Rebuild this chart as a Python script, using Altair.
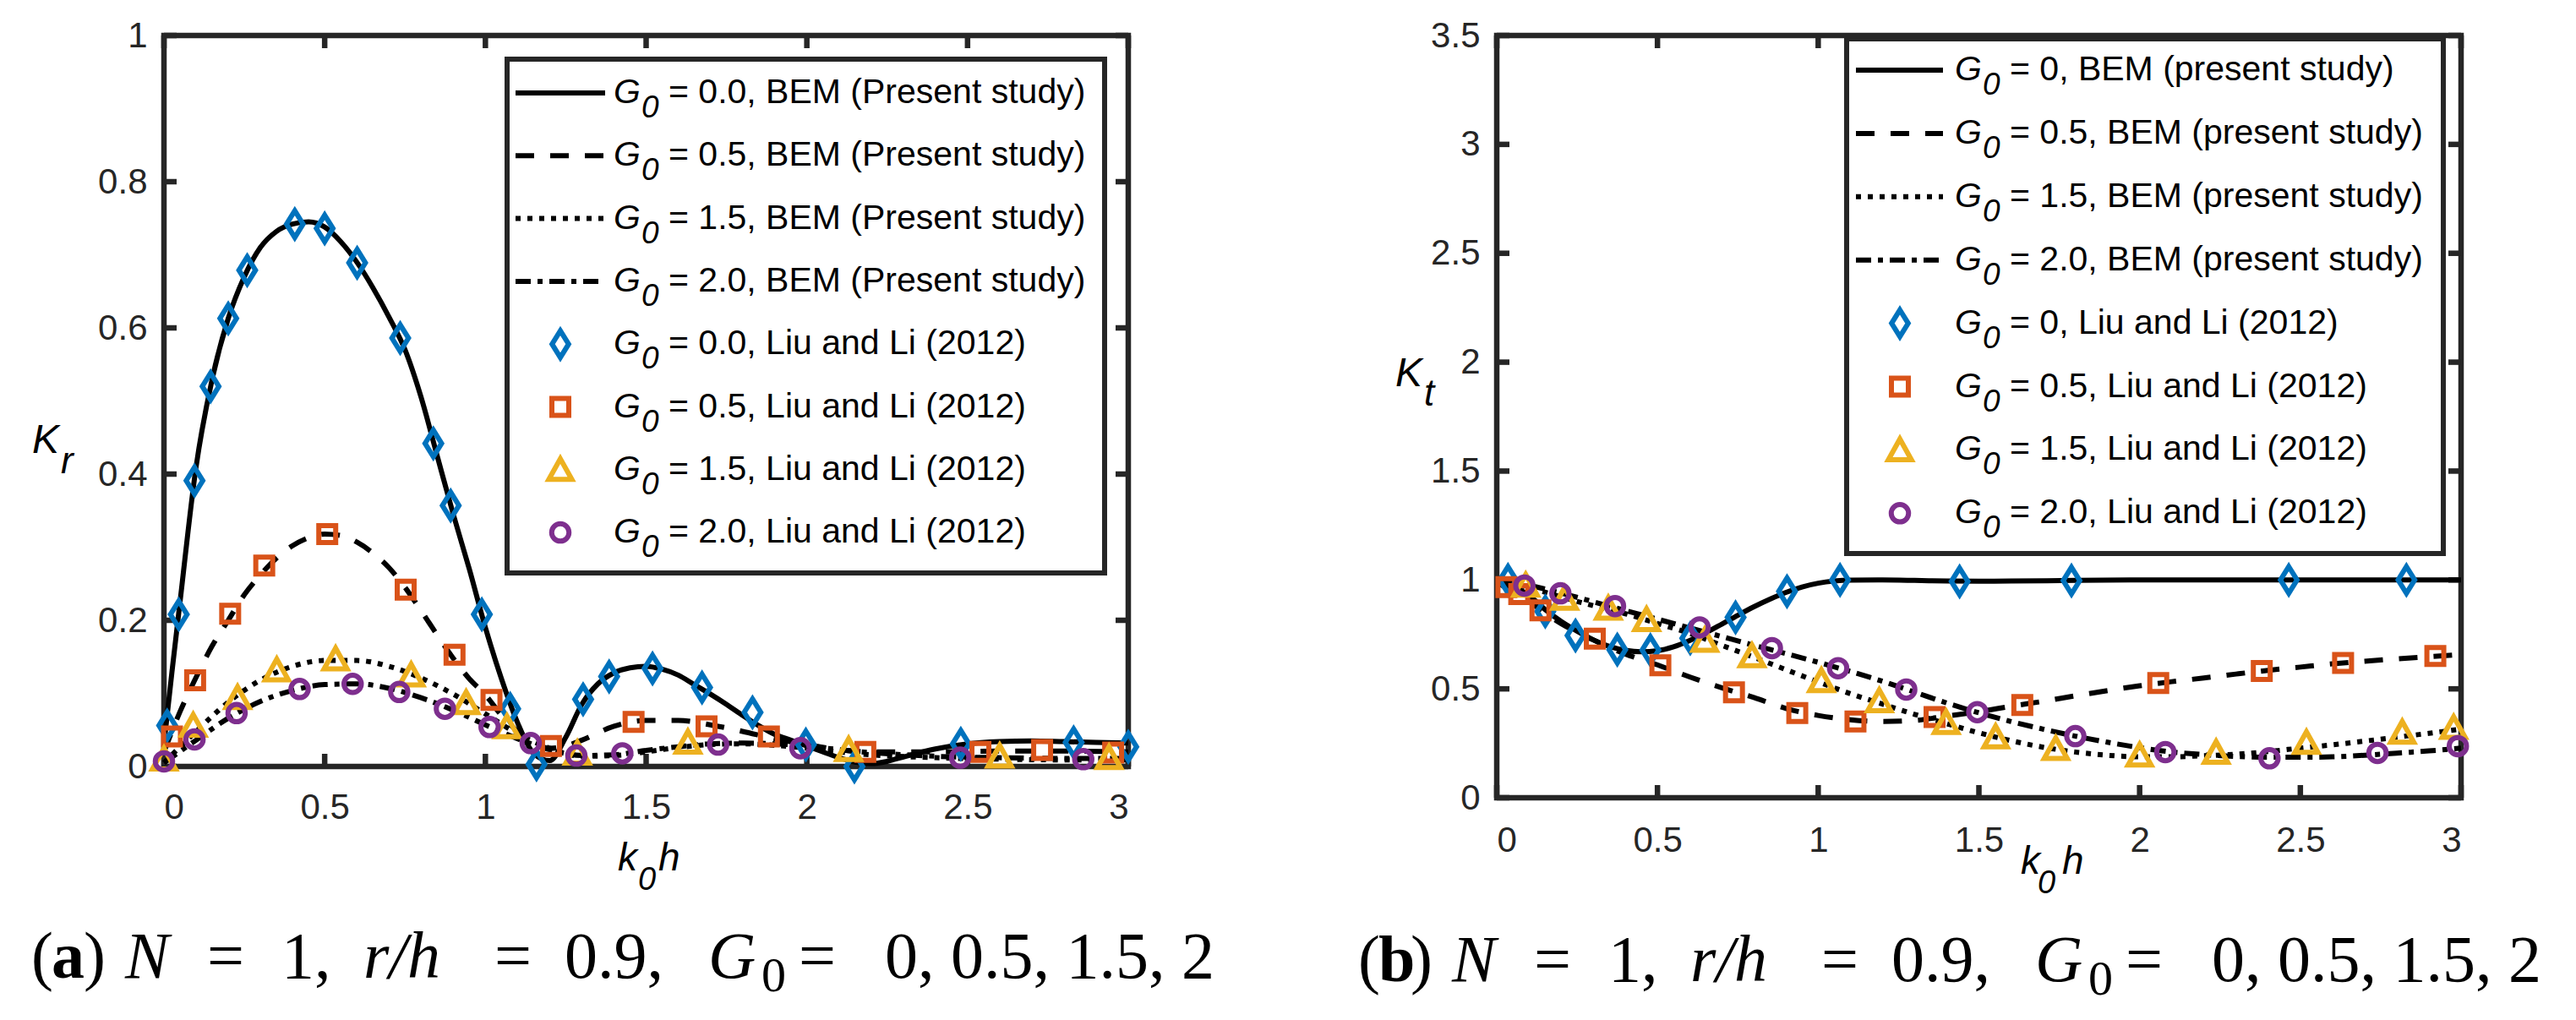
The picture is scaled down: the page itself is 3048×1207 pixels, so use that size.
import altair as alt
import pandas as pd

# ---------------- data ----------------
k_ticks = [0, 0.5, 1, 1.5, 2, 2.5, 3]
kr_ticks = [0, 0.2, 0.4, 0.6, 0.8, 1]
kt_ticks = [0, 0.5, 1, 1.5, 2, 2.5, 3, 3.5]

# (a) Kr, BEM (present study)
kr_x00 = [0, 0.025, 0.05, 0.1, 0.15, 0.2, 0.25, 0.3, 0.35, 0.4, 0.45, 0.5, 0.55, 0.6, 0.65,
          0.7, 0.75, 0.8, 0.85, 0.9, 0.95, 1.0, 1.05, 1.1, 1.15, 1.2, 1.25, 1.3, 1.35, 1.4,
          1.45, 1.5, 1.55, 1.6, 1.65, 1.7, 1.75, 1.8, 1.85, 1.9, 1.95, 2.0, 2.05, 2.1, 2.15,
          2.2, 2.25, 2.3, 2.4, 2.5, 2.6, 2.7, 2.8, 2.9, 3.0]
kr_y00 = [0.03, 0.13, 0.225, 0.41, 0.53, 0.613, 0.67, 0.71, 0.732, 0.742, 0.745, 0.738, 0.718,
          0.69, 0.655, 0.615, 0.57, 0.505, 0.425, 0.345, 0.27, 0.19, 0.12, 0.06, 0.018, 0.008,
          0.04, 0.085, 0.113, 0.128, 0.135, 0.137, 0.133, 0.125, 0.112, 0.099, 0.085, 0.07,
          0.056, 0.044, 0.036, 0.028, 0.02, 0.012, 0.006, 0.004, 0.007, 0.013, 0.024, 0.031,
          0.034, 0.035, 0.034, 0.033, 0.032]
kr_x05 = [0, 0.05, 0.1, 0.15, 0.2, 0.25, 0.3, 0.35, 0.4, 0.45, 0.5, 0.55, 0.6, 0.65, 0.7, 0.75,
          0.8, 0.85, 0.9, 0.95, 1.0, 1.05, 1.1, 1.15, 1.2, 1.25, 1.3, 1.4, 1.5, 1.6, 1.7, 1.8,
          1.9, 2.0, 2.1, 2.2, 2.4, 2.6, 2.8, 3.0]
kr_y05 = [0.02, 0.075, 0.122, 0.165, 0.2, 0.235, 0.262, 0.285, 0.302, 0.313, 0.318, 0.316, 0.307,
          0.292, 0.272, 0.245, 0.213, 0.18, 0.148, 0.12, 0.098, 0.07, 0.048, 0.032, 0.025, 0.028,
          0.036, 0.055, 0.063, 0.063, 0.057, 0.048, 0.038, 0.03, 0.023, 0.02, 0.02, 0.021, 0.021,
          0.02]
kr_x = [0, 0.1, 0.2, 0.3, 0.4, 0.5, 0.6, 0.7, 0.8, 0.9, 1.0, 1.1, 1.2, 1.3, 1.4, 1.5, 1.6, 1.7,
        1.8, 1.9, 2.0, 2.1, 2.2, 2.4, 2.6, 2.8, 3.0]
kr_y15 = [0.005, 0.048, 0.088, 0.118, 0.137, 0.145, 0.145, 0.137, 0.121, 0.099, 0.072, 0.045,
          0.025, 0.014, 0.015, 0.02, 0.026, 0.03, 0.031, 0.029, 0.025, 0.02, 0.016, 0.012, 0.01,
          0.009, 0.009]
kr_y20 = [0.005, 0.036, 0.066, 0.089, 0.104, 0.112, 0.113, 0.107, 0.094, 0.077, 0.057, 0.038,
          0.023, 0.015, 0.016, 0.022, 0.027, 0.031, 0.032, 0.031, 0.028, 0.023, 0.019, 0.014,
          0.012, 0.011, 0.011]

# (a) Kr, Liu and Li (2012)
kr_liu_x00 = [0.01, 0.046, 0.095, 0.145, 0.2, 0.259, 0.407, 0.5, 0.601, 0.735, 0.838, 0.892,
              0.989, 1.077, 1.159, 1.304, 1.385, 1.52, 1.674, 1.831, 1.997, 2.148, 2.479, 2.83, 3.0]
kr_liu_y00 = [0.056, 0.208, 0.391, 0.52, 0.613, 0.679, 0.742, 0.736, 0.689, 0.586, 0.442, 0.357,
              0.208, 0.079, 0.003, 0.092, 0.123, 0.134, 0.108, 0.074, 0.03, 0.0, 0.031, 0.033, 0.027]
kr_liu_x05 = [0.025, 0.097, 0.206, 0.312, 0.508, 0.752, 0.904, 1.019, 1.204, 1.461, 1.688, 1.882,
              2.182, 2.54, 2.732, 2.953]
kr_liu_y05 = [0.041, 0.118, 0.209, 0.275, 0.318, 0.242, 0.153, 0.091, 0.028, 0.061, 0.055, 0.041,
              0.02, 0.02, 0.0225, 0.019]
kr_liu_x15 = [0.0, 0.091, 0.229, 0.351, 0.534, 0.769, 0.94, 1.067, 1.286, 1.63, 2.13, 2.6, 2.94]
kr_liu_y15 = [0.01, 0.056, 0.094, 0.132, 0.147, 0.125, 0.087, 0.054, 0.018, 0.033, 0.023, 0.014,
              0.012]
kr_liu_x20 = [0.0, 0.095, 0.226, 0.422, 0.587, 0.732, 0.874, 1.013, 1.141, 1.283, 1.426, 1.724,
              1.98, 2.477, 2.86]
kr_liu_y20 = [0.007, 0.037, 0.073, 0.106, 0.113, 0.102, 0.079, 0.054, 0.032, 0.015, 0.018, 0.03,
              0.025, 0.012, 0.01]

# (b) Kt, BEM (present study)
kt_x00 = [0, 0.05, 0.1, 0.15, 0.2, 0.25, 0.3, 0.35, 0.4, 0.45, 0.5, 0.55, 0.6, 0.65, 0.7, 0.75,
          0.8, 0.85, 0.9, 0.95, 1.0, 1.05, 1.1, 1.2, 1.3, 1.4, 1.5, 1.6, 1.8, 2.0, 2.5, 3.0]
kt_y00 = [1.0, 0.97, 0.93, 0.865, 0.81, 0.765, 0.725, 0.695, 0.677, 0.67, 0.675, 0.693, 0.722,
          0.757, 0.797, 0.838, 0.877, 0.912, 0.943, 0.968, 0.985, 0.995, 0.999, 1.0, 0.998, 0.995,
          0.994, 0.995, 0.998, 1.0, 1.0, 1.0]
kt_x = [0, 0.1, 0.2, 0.3, 0.4, 0.5, 0.6, 0.7, 0.8, 0.9, 1.0, 1.1, 1.2, 1.3, 1.4, 1.5, 1.6, 1.7,
        1.8, 1.9, 2.0, 2.1, 2.2, 2.3, 2.4, 2.5, 2.6, 2.7, 2.8, 2.9, 3.0]
kt_y05 = [0.99, 0.9, 0.8, 0.725, 0.66, 0.61, 0.555, 0.505, 0.46, 0.41, 0.378, 0.358, 0.35, 0.355,
          0.375, 0.395, 0.42, 0.443, 0.468, 0.492, 0.514, 0.533, 0.55, 0.568, 0.585, 0.6, 0.615,
          0.627, 0.638, 0.648, 0.657]
kt_y15 = [1.0, 0.965, 0.922, 0.882, 0.845, 0.8, 0.755, 0.7, 0.645, 0.588, 0.532, 0.478, 0.43,
          0.383, 0.34, 0.298, 0.262, 0.232, 0.21, 0.195, 0.188, 0.188, 0.193, 0.2, 0.212, 0.228,
          0.243, 0.26, 0.278, 0.296, 0.315]
kt_y20 = [1.0, 0.975, 0.94, 0.9, 0.86, 0.82, 0.78, 0.74, 0.7, 0.662, 0.622, 0.58, 0.535, 0.485,
          0.435, 0.39, 0.35, 0.315, 0.283, 0.255, 0.23, 0.21, 0.198, 0.19, 0.186, 0.186, 0.188,
          0.195, 0.205, 0.215, 0.228]

# (b) Kt, Liu and Li (2012)
kt_liu_x00 = [0.035, 0.151, 0.245, 0.375, 0.478, 0.602, 0.743, 0.903, 1.068, 1.44, 1.788, 2.464, 2.83]
kt_liu_y00 = [1.0, 0.856, 0.745, 0.68, 0.678, 0.732, 0.828, 0.948, 1.0, 0.993, 0.997, 1.0, 1.0]
kt_liu_x05 = [0.03, 0.07, 0.136, 0.305, 0.509, 0.738, 0.935, 1.116, 1.362, 1.635, 2.058, 2.38,
              2.633, 2.92]
kt_liu_y05 = [0.967, 0.935, 0.86, 0.73, 0.608, 0.484, 0.389, 0.35, 0.371, 0.426, 0.527, 0.582,
              0.619, 0.651]
kt_liu_x15 = [0.09, 0.211, 0.347, 0.466, 0.647, 0.794, 1.01, 1.19, 1.398, 1.552, 1.739, 2.0,
              2.238, 2.519, 2.817, 2.977]
kt_liu_y15 = [0.975, 0.915, 0.869, 0.817, 0.722, 0.651, 0.537, 0.445, 0.345, 0.279, 0.225, 0.195,
              0.208, 0.253, 0.3, 0.322]
kt_liu_x20 = [0.086, 0.198, 0.368, 0.631, 0.856, 1.062, 1.274, 1.495, 1.8, 2.08, 2.404, 2.74, 2.99]
kt_liu_y20 = [0.974, 0.939, 0.88, 0.782, 0.687, 0.595, 0.497, 0.393, 0.283, 0.21, 0.181, 0.206,
              0.237]

left_labels = [
    "= 0.0, BEM (Present study)", "= 0.5, BEM (Present study)",
    "= 1.5, BEM (Present study)", "= 2.0, BEM (Present study)",
    "= 0.0, Liu and Li (2012)", "= 0.5, Liu and Li (2012)",
    "= 1.5, Liu and Li (2012)", "= 2.0, Liu and Li (2012)",
]
right_labels = [
    "= 0, BEM (present study)", "= 0.5, BEM (present study)",
    "= 1.5, BEM (present study)", "= 2.0, BEM (present study)",
    "= 0, Liu and Li (2012)", "= 0.5, Liu and Li (2012)",
    "= 1.5, Liu and Li (2012)", "= 2.0, Liu and Li (2012)",
]

# ---------------- styles ----------------
INK = "#262626"
SANS = "Liberation Sans"
SERIF = "Liberation Serif"
DASHES = [None, [22, 19], [6, 8], [18, 8, 6, 8]]
MARKERS = [
    ("M0,-1L0.62,0L0,1L-0.62,0Z", 1000, "#0072BD"),
    ("square", 400, "#D95319"),
    ("M0,-0.95L1,0.85L-1,0.85Z", 740, "#EDB120"),
    ("circle", 420, "#7E2F8E"),
]
ONE = pd.DataFrame({"k": [0]})


def word(text, x, y, size, font=SANS, style="normal", weight="normal"):
    return (
        alt.Chart(ONE)
        .mark_text(text=text, align="left", baseline="alphabetic", font=font, fontSize=size,
                   fontStyle=style, fontWeight=weight, color="black")
        .encode(x=alt.value(x), y=alt.value(y))
    )


def panel(W, H, ymax, yticks, curves, points, labels, leg, words, xpad):
    xs = alt.Scale(domain=[0, 3], nice=False, zero=False)
    ys = alt.Scale(domain=[0, ymax], nice=False, zero=False)
    xax = alt.Axis(values=k_ticks, format="~g", title=None, grid=False, ticks=False,
                   tickSize=0, domain=False, labelPadding=xpad)
    yax = alt.Axis(values=yticks, format="~g", title=None, grid=False, ticks=False,
                   tickSize=0, domain=False, labelPadding=20)

    def X(f):
        return alt.X(f"{f}:Q", scale=xs, axis=xax)

    def Y(f):
        return alt.Y(f"{f}:Q", scale=ys, axis=yax)

    layers = []
    # inward ticks on all four sides
    tx = pd.DataFrame({"v": k_ticks})
    ty = pd.DataFrame({"v": yticks})
    tk = dict(color=INK, strokeWidth=6.5)
    layers += [
        alt.Chart(tx).mark_rule(**tk).encode(x=X("v"), y=alt.value(H), y2=alt.value(H - 15)),
        alt.Chart(tx).mark_rule(**tk).encode(x=X("v"), y=alt.value(0), y2=alt.value(15)),
        alt.Chart(ty).mark_rule(**tk).encode(y=Y("v"), x=alt.value(0), x2=alt.value(15)),
        alt.Chart(ty).mark_rule(**tk).encode(y=Y("v"), x=alt.value(W), x2=alt.value(W - 15)),
    ]

    # BEM curves
    for (xv, yv), dash in zip(curves, DASHES):
        kw = dict(color="black", strokeWidth=6, interpolate="monotone")
        if dash:
            kw["strokeDash"] = dash
        df = pd.DataFrame({"x": xv, "y": yv})
        layers.append(alt.Chart(df).mark_line(**kw).encode(x=X("x"), y=Y("y")))

    # Liu and Li markers
    for (xv, yv), (shape, size, col) in zip(points, MARKERS):
        df = pd.DataFrame({"x": xv, "y": yv})
        layers.append(
            alt.Chart(df)
            .mark_point(shape=shape, size=size, filled=False, color=col, strokeWidth=6, opacity=1)
            .encode(x=X("x"), y=Y("y"))
        )

    # legend box (pixel layout converted to data units)
    bx0, bx1, by0, by1, r0, step, la, lb, mk, tx0 = leg

    def px(p):
        return p / W * 3

    def py(p):
        return (H - p) / H * ymax

    rows = [py(r0 + i * step) for i in range(8)]
    box = pd.DataFrame({"x0": [px(bx0)], "x1": [px(bx1)], "y0": [py(by0)], "y1": [py(by1)]})
    layers.append(
        alt.Chart(box).mark_rect(fill="white", stroke=INK, strokeWidth=6)
        .encode(x=X("x0"), x2="x1", y=Y("y0"), y2="y1")
    )
    for i, dash in enumerate(DASHES):
        kw = dict(color="black", strokeWidth=6)
        if dash:
            kw["strokeDash"] = dash
        df = pd.DataFrame({"a": [px(la)], "b": [px(lb)], "y": [rows[i]]})
        layers.append(alt.Chart(df).mark_rule(**kw).encode(x=X("a"), x2="b", y=Y("y")))
    for j, (shape, size, col) in enumerate(MARKERS):
        df = pd.DataFrame({"x": [px(mk)], "y": [rows[4 + j]]})
        layers.append(
            alt.Chart(df)
            .mark_point(shape=shape, size=size, filled=False, color=col, strokeWidth=6, opacity=1)
            .encode(x=X("x"), y=Y("y"))
        )
    lt = pd.DataFrame({"x": [px(tx0)] * 8, "y": rows, "label": labels})
    txt = dict(align="left", baseline="middle", font=SANS, color="black")
    layers += [
        alt.Chart(lt).mark_text(fontSize=41, fontStyle="italic", **txt)
        .encode(x=X("x"), y=Y("y"), text=alt.value("G")),
        alt.Chart(lt).mark_text(fontSize=37, fontStyle="italic", dx=33, dy=18, **txt)
        .encode(x=X("x"), y=Y("y"), text=alt.value("0")),
        alt.Chart(lt).mark_text(fontSize=41, dx=65, **txt)
        .encode(x=X("x"), y=Y("y"), text="label:N"),
    ]

    layers += words
    return alt.layer(*layers).properties(width=W, height=H)


def caption(tag, base_x, base_y):
    parts = [
        ("(", 0, 0, 78, "normal", "normal"),
        (tag, 24, 0, 78, "normal", "bold"),
        (")", 62, 0, 78, "normal", "normal"),
        ("N", 111, 0, 78, "italic", "normal"),
        ("=", 208, 0, 78, "normal", "normal"),
        ("1,", 296, 0, 78, "normal", "normal"),
        ("r/h", 393, 0, 78, "italic", "normal"),
        ("=", 548, 0, 78, "normal", "normal"),
        ("0.9,", 631, 0, 78, "normal", "normal"),
        ("G", 801, 0, 78, "italic", "normal"),
        ("0", 864, 16, 58, "normal", "normal"),
        ("=", 908, 0, 78, "normal", "normal"),
        ("0, 0.5, 1.5, 2", 1010, 0, 78, "normal", "normal"),
    ]
    return [word(t, base_x + dx, base_y + dy, s, SERIF, st, wt) for t, dx, dy, s, st, wt in parts]


# ---------------- (a) ----------------
WA, HA = 1141, 865
words_a = [
    word("K", -156, 494, 48, style="italic"),
    word("r", -122, 518, 44, style="italic"),
    word("k", 537, HA + 123, 46, style="italic"),
    word("0", 561, HA + 146, 38, style="italic"),
    word("h", 585, HA + 123, 46, style="italic"),
] + caption("a", -157, 1115)
left = panel(
    WA, HA, 1.0, kr_ticks,
    [(kr_x00, kr_y00), (kr_x05, kr_y05), (kr_x, kr_y15), (kr_x, kr_y20)],
    [(kr_liu_x00, kr_liu_y00), (kr_liu_x05, kr_liu_y05), (kr_liu_x15, kr_liu_y15),
     (kr_liu_x20, kr_liu_y20)],
    left_labels,
    (406, 1113, 28, 636, 68, 74.3, 416, 522, 469, 532),
    words_a, 28,
)

# ---------------- (b) ----------------
WB, HB = 1141, 902
words_b = [
    word("K", -120, 415, 48, style="italic"),
    word("t", -86, 438, 44, style="italic"),
    word("k", 620, HB + 90, 46, style="italic"),
    word("0", 640, HB + 113, 38, style="italic"),
    word("h", 669, HB + 90, 46, style="italic"),
] + caption("b", -164, 1119)
right = panel(
    WB, HB, 3.5, kt_ticks,
    [(kt_x00, kt_y00), (kt_x, kt_y05), (kt_x, kt_y15), (kt_x, kt_y20)],
    [(kt_liu_x00, kt_liu_y00), (kt_liu_x05, kt_liu_y05), (kt_liu_x15, kt_liu_y15),
     (kt_liu_x20, kt_liu_y20)],
    right_labels,
    (414, 1120, 4, 613, 41, 74.9, 425, 528, 477, 542),
    words_b, 30,
)

chart = (
    alt.hconcat(left, right, spacing=162)
    .properties(padding={"left": 25, "top": 9, "right": 0, "bottom": 0}, background="white")
    .configure_view(stroke=INK, strokeWidth=6.5)
    .configure_axis(labelFont=SANS, labelFontSize=42, labelColor=INK)
)

chart.save("out.html", embed_options={"renderer": "svg", "actions": False})
